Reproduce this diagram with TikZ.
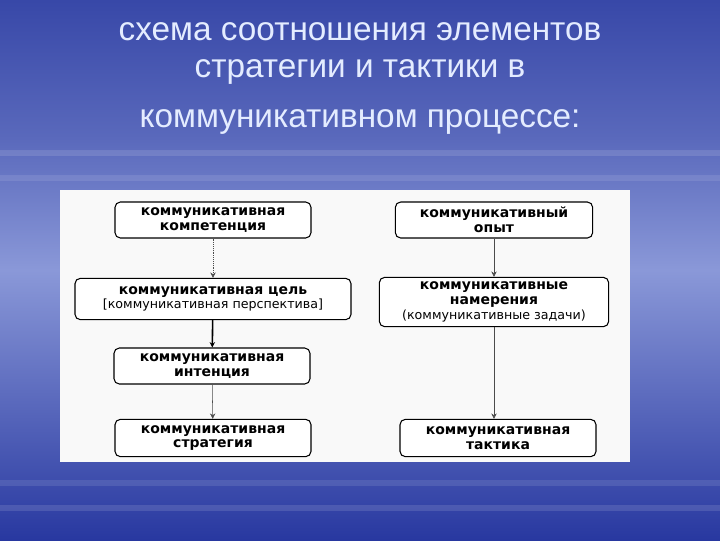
\documentclass[tikz,border=0pt]{standalone}
\usepackage{fontspec}
\setmainfont{Liberation Sans}
\newfontfamily\boxfont{DejaVu Sans}
\definecolor{bgtop}{HTML}{3848A8}
\definecolor{bgmid}{HTML}{8A98D8}
\definecolor{bgbot}{HTML}{2838A0}
\definecolor{titlec}{HTML}{E4ECFF}
\tikzset{
 bx/.style={draw=black,thick,rounded corners=4pt,fill=white,align=center,font=\boxfont\bfseries\fontsize{10.5}{11}\selectfont,inner sep=1pt},
 ar/.style={-{Stealth[length=4pt,width=4pt]},thin,black!70},
 ttl/.style={text=titlec,font=\fontsize{25}{28}\selectfont}
}
\usetikzlibrary{arrows.meta}
\begin{document}
\begin{tikzpicture}[x=0.75pt,y=-0.75pt]
\useasboundingbox (0,0) rectangle (720,540);
\shade[top color=bgtop,bottom color=bgmid,middle color=bgtop!60!bgmid] (0,0) rectangle (720,270);
\shade[top color=bgmid,bottom color=bgbot] (0,270) rectangle (720,540);
\foreach \yy/\op in {150/0.12,175/0.1,480/0.1,505/0.12}{\fill[white,opacity=\op] (0,\yy) rectangle (720,\yy+6);}
\node[ttl] (t1) at (360,32) {схема соотношения элементов};
\node[ttl] (t2) at (360,72) {стратегии и тактики в};
\node[ttl] (t3) at (360,122) {коммуникативном процессе:};
\fill[white!95!gray] (60,190) rectangle (630,462);
\node[bx,minimum width=147pt,minimum height=27pt] (l1) at (213,220) {коммуникативная\\компетенция};
\node[bx,minimum width=207pt,minimum height=31pt] (l2) at (213,299) {коммуникативная цель\\{\mdseries\fontsize{9.5}{11}\selectfont[коммуникативная перспектива]}};
\node[bx,minimum width=147pt,minimum height=27pt] (l3) at (212,366) {коммуникативная\\интенция};
\node[bx,minimum width=147pt,minimum height=28pt] (l4) at (213,438) {коммуникативная\\стратегия};
\node[bx,minimum width=148pt,minimum height=27pt] (r1) at (494,220) {коммуникативный\\опыт};
\node[bx,minimum width=172pt,minimum height=37pt] (r2) at (494,302) {коммуникативные\\намерения\\{\mdseries\fontsize{9.5}{11}\selectfont(коммуникативные задачи)}};
\node[bx,minimum width=147pt,minimum height=28pt] (r3) at (498,438) {коммуникативная\\тактика};
\draw[ar,densely dotted] (l1) -- (l2);
\draw[ar,very thick,black] (l2) -- (l3);
\draw[ar] (l3) -- (l4);
\draw[ar] (r1) -- (r2);
\draw[ar] (r2.south) -- (r2.south |- r3.north);
\end{tikzpicture}
\end{document}
